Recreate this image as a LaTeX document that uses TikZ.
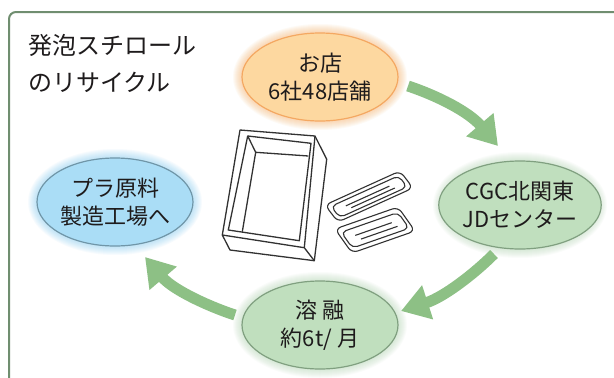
\documentclass[tikz,border=0pt]{standalone}
\usepackage{fontspec}
\newfontfamily\jp{Noto Sans CJK JP}
\usetikzlibrary{arrows.meta,calc,shapes.geometric}

\definecolor{framegreen}{RGB}{112,142,112}
\definecolor{arrowgreen}{RGB}{141,192,133}
\definecolor{shopfill}{RGB}{253,216,160}
\definecolor{shopline}{RGB}{244,168,98}
\definecolor{shopglow}{RGB}{250,170,90}
\definecolor{greenfill}{RGB}{192,223,190}
\definecolor{greenline}{RGB}{128,160,128}
\definecolor{greenglow}{RGB}{170,210,170}
\definecolor{bluefill}{RGB}{170,221,246}
\definecolor{blueline}{RGB}{112,150,168}
\definecolor{blueglow}{RGB}{120,200,245}
\definecolor{ink}{RGB}{30,27,28}
\definecolor{lineart}{RGB}{50,50,50}

% soft halo around an ellipse centred at #1
\newcommand\halo[2]{%
  \foreach \k in {1,...,9}{%
    \fill[#2,opacity=0.06] #1 ellipse [x radius={78+\k}, y radius={44+\k}];}}

% a shallow tray: corner #1, long side #2, short side #3
\newcommand\trayat[3]{%
  \coordinate (to) at #1; \coordinate (tl) at #2; \coordinate (ts) at #3;
  \draw[trayline, fill=white, rounded corners=6pt]
    (to) -- ($(to)+(tl)$) -- ($(to)+(tl)+(ts)$) -- ($(to)+(ts)$) -- cycle;
  \draw[trayline, rounded corners=5pt]
    ($(to)+0.05*(tl)+0.18*(ts)$) -- ($(to)+0.95*(tl)+0.18*(ts)$)
    -- ($(to)+0.95*(tl)+0.84*(ts)$) -- ($(to)+0.05*(tl)+0.84*(ts)$) -- cycle;
  \draw[trayline]
    ($(to)+0.20*(tl)+0.45*(ts)$) -- ($(to)+0.78*(tl)+0.45*(ts)$)
    ($(to)+0.24*(tl)+0.64*(ts)$) -- ($(to)+0.82*(tl)+0.64*(ts)$);}

\begin{document}
\begin{tikzpicture}[x=1pt,y=-1pt,
  stage/.style={ellipse, minimum width=156pt, minimum height=88pt, inner sep=0pt,
    line width=1.2pt, align=center, text=ink,
    font=\jp\fontsize{22}{28}\selectfont},
  flow/.style={draw=arrowgreen, line width=11pt,
    -{Triangle[width=34pt,length=28pt]}},
  trayline/.style={draw=lineart, line width=1.1pt, line join=round},
  crate/.style={draw=lineart, line width=1.3pt, line join=round},
  title/.style={anchor=west, inner sep=0pt, text=ink,
    font=\jp\fontsize{24}{28}\selectfont}]
\useasboundingbox (0,0) rectangle (614,378);
\fill[white] (0,0) rectangle (614,378);

% outer frame
\draw[framegreen, line width=2pt, rounded corners=7pt]
  (9,400) -- (9,12) -- (640,12);

% heading
\node[title] (t1) at (28,45) {発泡スチロール};
\node[title] (t2) at (28,82) {のリサイクル};

% halos
\halo{(320,77)}{shopglow}
\halo{(520,205)}{greenglow}
\halo{(320,325)}{greenglow}
\halo{(115,202)}{blueglow}

% stages of the cycle
\node[stage, fill=shopfill, draw=shopline] (shop) at (320,77) {お店\\6社48店舗};
\node[stage, fill=greenfill, draw=greenline] (cgc) at (520,205) {CGC北関東\\JDセンター};
\node[stage, fill=greenfill, draw=greenline] (melt) at (320,325) {溶 融\\約6t/ 月};
\node[stage, fill=bluefill, draw=blueline] (plant) at (115,202) {プラ原料\\製造工場へ};

% flow arrows
\coordinate (a1s) at (408,86);  \coordinate (a1e) at (498,146);
\coordinate (a2s) at (494,254); \coordinate (a2e) at (401,311);
\coordinate (a3s) at (235,315); \coordinate (a3e) at (145,257);
\draw[flow] (a1s) .. controls (438,96) and (469,112) .. (a1e);
\draw[flow] (a2s) .. controls (474,274) and (444,297) .. (a2e);
\draw[flow] (a3s) .. controls (213,308) and (174,291) .. (a3e);

% foam crate
\coordinate (o1) at (240,130); \coordinate (o2) at (315,136);
\coordinate (o3) at (326.7,159.3); \coordinate (o4) at (314.3,260.7);
\coordinate (o5) at (230,250); \coordinate (o6) at (222.3,235);
\coordinate (o7) at (304.3,247.7);
\coordinate (r1) at (247.7,136); \coordinate (r2) at (311,143.3);
\coordinate (r3) at (299.3,240.7); \coordinate (r4) at (228.3,230);
\coordinate (f1) at (255.7,152.3); \coordinate (f2) at (308.3,156);
\coordinate (f4) at (242.3,231.7);
\fill[white] (o1) -- (o2) -- (o3) -- (o4) -- (o5) -- (o6) -- cycle;
\draw[crate] (o1) -- (o2) -- (o3) -- (o4) -- (o5) -- (o6) -- cycle;
\draw[crate] (o6) -- (o7) -- (o4) (o2) -- (o7);
\draw[crate] (r1) -- (r2) -- (r3) -- (r4) -- cycle;
\draw[crate] (r1) -- (f1) -- (f2) (f1) -- (f4);

% trays
\trayat{(325,205)}{(75,-34)}{(13,17)}
\trayat{(335,229)}{(63,-22)}{(17,24)}
\end{tikzpicture}
\end{document}
